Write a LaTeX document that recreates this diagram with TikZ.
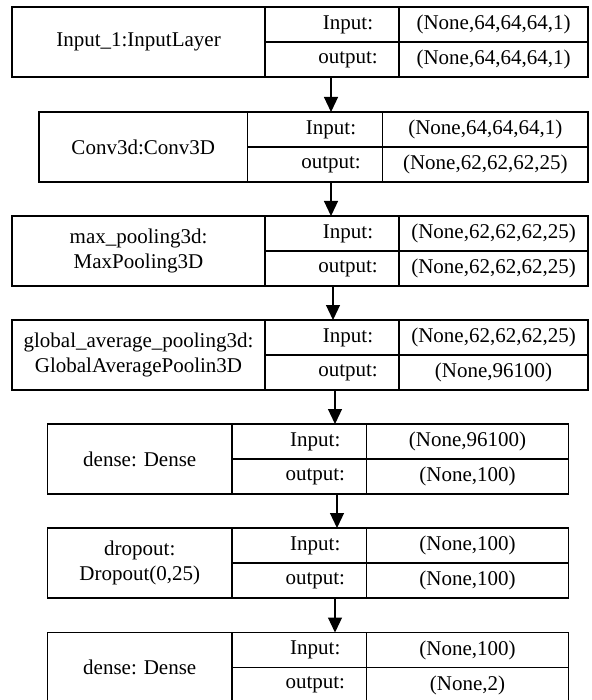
\documentclass[tikz,border=0pt]{standalone}
\usepackage{fontspec}
\setmainfont{Liberation Serif}
\usetikzlibrary{arrows.meta}

\tikzset{
  frame/.style={line width=1.3pt, draw=black},
  layerbox/.style={frame, rectangle, anchor=north west, inner sep=0pt, outer sep=0pt, minimum height=70pt},
  txt/.style={inner sep=0pt, font=\fontsize{21}{25}\selectfont, align=center},
  flow/.style={line width=1.2pt, -{Triangle[width=14pt,length=15pt]}}
}

% #1 name, #2 top, #3 left, #4 first divider, #5 second divider, #6 right,
% #7 layer label, #8 input shape, #9 output shape
\newcommand\layerrow[9]{%
  \node[layerbox, minimum width={(#6-#3)*1pt}] (#1) at (#3,#2) {};
  \draw[frame] (#4,#2) -- (#4,{#2+70});
  \draw[frame] (#5,#2) -- (#5,{#2+70});
  \draw[frame] (#4,{#2+35}) -- (#6,{#2+35});
  \node[txt] (#1-name) at ({(#3+#4)/2},{#2+35}) {#7};
  \node[txt] (#1-ik) at ({(#4+#5)/2+16},{#2+17.5}) {Input:};
  \node[txt] (#1-ok) at ({(#4+#5)/2+16},{#2+52.5}) {output:};
  \node[txt] (#1-iv) at ({(#5+#6)/2},{#2+17.5}) {#8};
  \node[txt] (#1-ov) at ({(#5+#6)/2},{#2+52.5}) {#9};
}

\begin{document}
\begin{tikzpicture}[x=1pt,y=-1pt]
  \useasboundingbox (0,0) rectangle (591,700);

  \layerrow{b1}{7}{12}{265}{399}{588}{Input\_1:InputLayer}{(None,64,64,64,1)}{(None,64,64,64,1)}
  \layerrow{b2}{112}{39}{247.5}{382.5}{588}{Conv3d:Conv3D}{(None,64,64,64,1)}{(None,62,62,62,25)}
  \layerrow{b3}{216}{12}{265}{399}{588}{max\_pooling3d:\\MaxPooling3D}{(None,62,62,62,25)}{(None,62,62,62,25)}
  \layerrow{b4}{320}{12}{265}{399}{588}{global\_average\_pooling3d:\\GlobalAveragePoolin3D}{(None,62,62,62,25)}{(None,96100)}
  \layerrow{b5}{424}{47.5}{232}{366.5}{568.5}{dense: Dense}{(None,96100)}{(None,100)}
  \layerrow{b6}{528}{47.5}{232}{366.5}{568.5}{dropout:\\Dropout(0,25)}{(None,100)}{(None,100)}
  \layerrow{b7}{632.5}{47.5}{232}{366.5}{568.5}{dense: Dense}{(None,100)}{(None,2)}

  % connectors between consecutive layers
  \coordinate (x1) at (331,0);
  \coordinate (x2) at (331,0);
  \coordinate (x3) at (333,0);
  \coordinate (x4) at (335,0);
  \coordinate (x5) at (337,0);
  \coordinate (x6) at (335,0);
  \draw[flow] (b1.south -| x1) -- (b2.north -| x1);
  \draw[flow] (b2.south -| x2) -- (b3.north -| x2);
  \draw[flow] (b3.south -| x3) -- (b4.north -| x3);
  \draw[flow] (b4.south -| x4) -- (b5.north -| x4);
  \draw[flow] (b5.south -| x5) -- (b6.north -| x5);
  \draw[flow] (b6.south -| x6) -- (b7.north -| x6);
\end{tikzpicture}
\end{document}
